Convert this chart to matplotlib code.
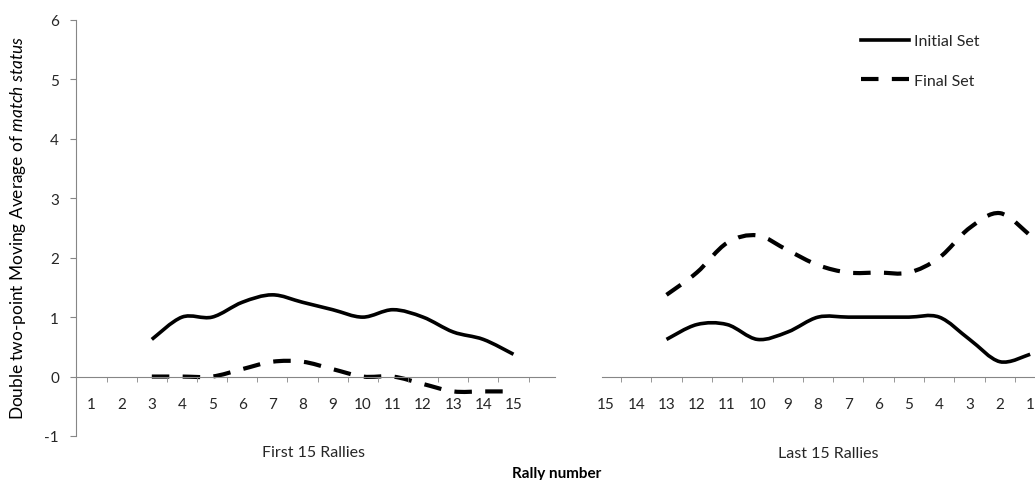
import numpy as np
import matplotlib
matplotlib.use("Agg")
import matplotlib.pyplot as plt
from matplotlib.path import Path
from matplotlib.patches import PathPatch
from matplotlib.lines import Line2D

plt.rcParams['font.family'] = ['Lato', 'DejaVu Sans']
plt.rcParams['mathtext.fontset'] = 'custom'
plt.rcParams['mathtext.rm'] = 'Lato'
plt.rcParams['mathtext.it'] = 'Lato:italic'
plt.rcParams['axes.unicode_minus'] = False

# first 15 rallies of the match
first_rallies = [3, 4, 5, 6, 7, 8, 9, 10, 11, 12, 13, 14, 15]
first_initial = [0.625, 1.0, 1.0, 1.25, 1.375, 1.25, 1.125, 1.0, 1.125, 1.0, 0.75, 0.625, 0.375]
first_final = [0.0, 0.0, 0.0, 0.125, 0.25, 0.25, 0.125, 0.0, 0.0, -0.125, -0.25, -0.25, -0.25]

# last 15 rallies, counted back from the end of the set
last_rallies = [13, 12, 11, 10, 9, 8, 7, 6, 5, 4, 3, 2, 1]
last_initial = [0.625, 0.875, 0.875, 0.625, 0.75, 1.0, 1.0, 1.0, 1.0, 1.0, 0.625, 0.25, 0.375]
last_final = [1.375, 1.75, 2.25, 2.375, 2.125, 1.875, 1.75, 1.75, 1.75, 2.0, 2.5, 2.75, 2.375]

series_names = ['Initial Set', 'Final Set']
y_ticks = [-1, 0, 1, 2, 3, 4, 5, 6]

AXIS_GREY = '#868686'
TEXT = '#262626'
SOLID = dict(color='black', linewidth=2.6, linestyle='-')
DASHED = dict(color='black', linewidth=3.0, linestyle=(0, (4.2, 3.2)))


def smooth_path(x, y):
    # smoothed line through the points, Catmull-Rom style bezier segments
    pts = np.column_stack([x, y]).astype(float)
    n = len(pts)
    verts = [pts[0]]
    codes = [Path.MOVETO]
    for i in range(n - 1):
        p0 = pts[max(i - 1, 0)]
        p1 = pts[i]
        p2 = pts[i + 1]
        p3 = pts[min(i + 2, n - 1)]
        verts += [p1 + (p2 - p0) / 6, p2 - (p3 - p1) / 6, p2]
        codes += [Path.CURVE4] * 3
    return Path(verts, codes)


def style_axis(ax, cats):
    ax.set_ylim(-1, 6)
    for s in ['top', 'right']:
        ax.spines[s].set_visible(False)
    ax.spines['bottom'].set_position(('data', 0))
    ax.spines['bottom'].set_color(AXIS_GREY)
    ax.spines['left'].set_color(AXIS_GREY)
    ax.set_xticks(cats)
    ax.set_xticklabels([str(c) for c in cats])
    ax.set_xticks([c + 0.5 for c in range(1, 16)], minor=True)
    ax.tick_params(axis='x', which='major', length=0, pad=15, labelsize=11, labelcolor=TEXT)
    ax.tick_params(axis='x', which='minor', length=3.6, direction='out', color=AXIS_GREY)


fig = plt.figure(figsize=(10.35, 4.81), dpi=100)
ax1 = fig.add_axes([0.0735, 0.0915, 0.4628, 0.8649])
ax2 = fig.add_axes([0.5816, 0.0915, 0.4184, 0.8649])

style_axis(ax1, list(range(1, 16)))
ax1.set_xlim(0.487, 16.38)
ax1.set_yticks(y_ticks)
ax1.tick_params(axis='y', length=4.3, direction='out', color=AXIS_GREY, pad=8,
                labelsize=11, labelcolor=TEXT)

style_axis(ax2, list(range(15, 0, -1)))
ax2.set_xlim(15.13, 0.84)
ax2.spines['left'].set_visible(False)
ax2.set_yticks([])
# minor ticks only between the labelled rallies
ax2.set_xticks([c + 0.5 for c in range(1, 15)], minor=True)

ax1.add_patch(PathPatch(smooth_path(first_rallies, first_initial), fill=False, **SOLID))
ax1.add_patch(PathPatch(smooth_path(first_rallies, first_final), fill=False, **DASHED))
ax2.add_patch(PathPatch(smooth_path(last_rallies, last_initial), fill=False, **SOLID))
ax2.add_patch(PathPatch(smooth_path(last_rallies, last_final), fill=False, **DASHED))

handles = [Line2D([], [], **SOLID), Line2D([], [], **DASHED)]
fig.legend(handles, series_names, loc='upper left', bbox_to_anchor=(861 / 1035, 1 - 35 / 481),
           frameon=False, fontsize=11.5, handlelength=3.0, handletextpad=0.3,
           labelspacing=1.6, borderpad=0, borderaxespad=0, labelcolor=TEXT)

fig.text(313 / 1035, 1 - 453 / 481, 'First 15 Rallies', ha='center', va='center',
         fontsize=11.5, color=TEXT)
fig.text(828 / 1035, 1 - 454 / 481, 'Last 15 Rallies', ha='center', va='center',
         fontsize=11.5, color=TEXT)
fig.text(557 / 1035, 1 - 474 / 481, 'Rally number', ha='center', va='center',
         fontsize=11, fontweight='bold', color='black')
fig.text(18 / 1035, 1 - 228 / 481, r'Double two-point Moving Average of $match\ status$',
         rotation=90, ha='center', va='center', fontsize=12.4, color='black')

fig.savefig('out.png', dpi=100)
